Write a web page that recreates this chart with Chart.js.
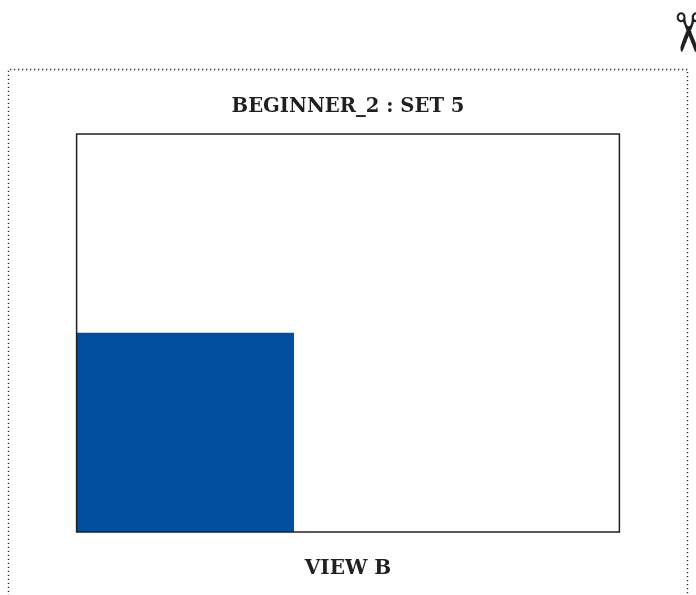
<!DOCTYPE html>
<html>
<head>
<meta charset="utf-8">
<title>BEGINNER_2 : SET 5</title>
<script src="https://cdn.jsdelivr.net/npm/chart.js@4/dist/chart.umd.min.js"></script>
<style>
    html, body { margin: 0; padding: 0; background: #fff; overflow: hidden; }
    #wrap { position: relative; width: 696px; height: 595px; overflow: hidden; }
    #viewChart { position: absolute; left: 0; top: 0; }
    #scissors {
        position: absolute; left: 667px; top: 10px; width: 40px; height: 40px;
        text-align: center;
        font: bold 54px/40px "DejaVu Sans"; color: #231f20;
        transform: rotate(90deg);
    }
</style>
</head>
<body>
<div id="wrap">
    <canvas id="viewChart" width="696" height="595"></canvas>
    <div id="scissors">✂</div>
</div>
<script>
const rows = ["upper", "lower"];
const cellValues = [0, 2];
const columnCount = 5;
const titleText = "BEGINNER_2 : SET 5";
const viewText = "VIEW B";

const inkColor = "#231f20";
const barColor = "#004f9f";

// Black box round the plot and dotted cut line round the page
const framePlugin = {
    id: "frames",
    beforeDraw(chart) {
        const ctx = chart.ctx;
        ctx.save();
        ctx.strokeStyle = "#333";
        ctx.lineWidth = 1.4;
        ctx.setLineDash([1.3, 2.7]);
        ctx.beginPath();
        ctx.moveTo(8.5, 600);
        ctx.lineTo(8.5, 69.5);
        ctx.lineTo(687.5, 69.5);
        ctx.lineTo(687.5, 600);
        ctx.stroke();
        ctx.restore();
    },
    afterDraw(chart) {
        const a = chart.chartArea;
        const ctx = chart.ctx;
        ctx.save();
        ctx.strokeStyle = inkColor;
        ctx.lineWidth = 1.5;
        ctx.strokeRect(a.left, a.top, a.right - a.left, a.bottom - a.top);
        ctx.restore();
    }
};

new Chart(document.getElementById("viewChart"), {
    type: "bar",
    data: {
        labels: rows,
        datasets: [{
            data: cellValues,
            backgroundColor: barColor,
            borderWidth: 0,
            categoryPercentage: 1,
            barPercentage: 1
        }]
    },
    options: {
        indexAxis: "y",
        responsive: false,
        animation: false,
        layout: { padding: { left: 76.6, right: 76.6, top: 95, bottom: 14 } },
        plugins: {
            legend: { display: false },
            tooltip: { enabled: false },
            title: {
                display: true,
                text: titleText,
                color: inkColor,
                font: { family: "DejaVu Serif", size: 19.6, weight: "bold" },
                padding: { top: 0, bottom: 15.5 }
            }
        },
        scales: {
            x: {
                min: 0,
                max: columnCount,
                grid: { display: false },
                border: { display: false },
                ticks: { display: false },
                title: {
                    display: true,
                    text: viewText,
                    color: inkColor,
                    font: { family: "DejaVu Serif", size: 20, weight: "bold" },
                    padding: { top: 17, bottom: 0 }
                }
            },
            y: { display: false }
        }
    },
    plugins: [framePlugin]
});
</script>
</body>
</html>
